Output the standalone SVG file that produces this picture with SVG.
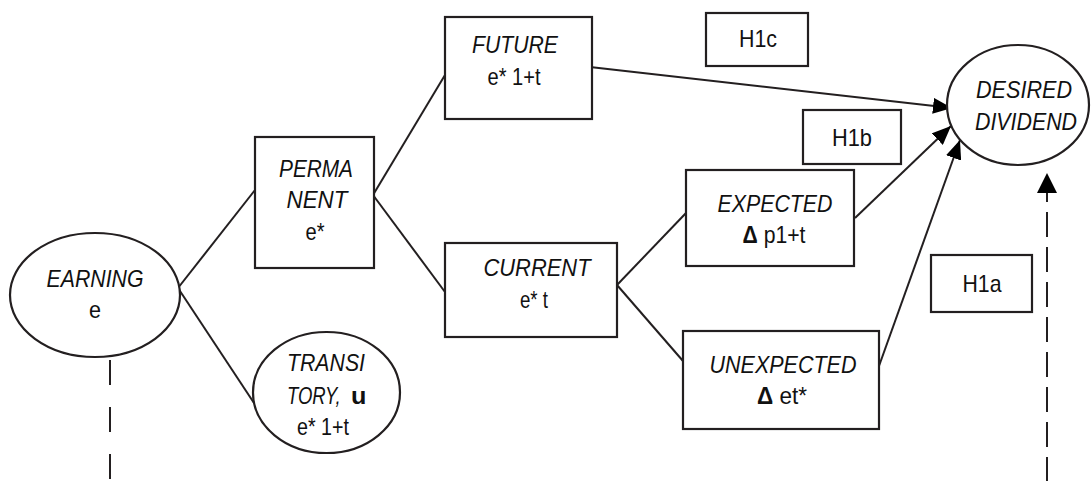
<svg xmlns="http://www.w3.org/2000/svg" width="1092" height="481" viewBox="0 0 1092 481">
<style>
.shape{fill:#fff;stroke:#231f20;stroke-width:2.2}
.t{font-family:"Liberation Sans",Arial,sans-serif;font-size:24px;fill:#111;text-anchor:middle}
.s{text-anchor:start}
.i{font-style:italic}
.b{font-weight:bold;font-style:normal}
.ln{fill:none;stroke:#231f20;stroke-width:2}
.dash{fill:none;stroke:#231f20;stroke-width:2}
</style>
<defs>
<marker id="ah" markerUnits="userSpaceOnUse" markerWidth="20" markerHeight="16" refX="19" refY="8" orient="auto">
<path d="M0,0 L19,8 L0,16 z" fill="#000"/>
</marker>
</defs>
<rect width="1092" height="481" fill="#fff"/>
<g id="connectors">
<line class="ln" x1="178" y1="288" x2="255" y2="190"/>
<line class="ln" x1="178" y1="288" x2="254" y2="403"/>
<line class="ln" x1="373" y1="195" x2="445" y2="75"/>
<line class="ln" x1="373" y1="195" x2="445" y2="292"/>
<line class="ln" x1="617" y1="285" x2="686" y2="213"/>
<line class="ln" x1="617" y1="285" x2="683" y2="361"/>
<line class="ln" x1="590" y1="67" x2="952" y2="108" marker-end="url(#ah)"/>
<line class="ln" x1="855" y1="218" x2="951" y2="126" marker-end="url(#ah)"/>
<line class="ln" x1="879" y1="366" x2="960" y2="140" marker-end="url(#ah)"/>
<line class="dash" x1="110" y1="360" x2="110" y2="481" stroke-dasharray="25 22"/>
<line class="dash" x1="1047" y1="190" x2="1047" y2="481" stroke-dasharray="25 10" stroke-dashoffset="13"/>
<path d="M1047,173 L1057,193 L1037,193 z" fill="#000"/>
</g>
<g id="earning">
<ellipse class="shape" cx="95" cy="295" rx="85" ry="62"/>
<text class="t i" x="95" y="287" textLength="97" lengthAdjust="spacingAndGlyphs">EARNING</text>
<text class="t" x="95" y="318" textLength="12" lengthAdjust="spacingAndGlyphs">e</text>
</g>
<g id="permanent">
<rect class="shape" x="255" y="137" width="119" height="131"/>
<text class="t i" x="316" y="177" textLength="74" lengthAdjust="spacingAndGlyphs">PERMA</text>
<text class="t i" x="317" y="208" textLength="61" lengthAdjust="spacingAndGlyphs">NENT</text>
<text class="t" x="315" y="240" textLength="19" lengthAdjust="spacingAndGlyphs">e*</text>
</g>
<g id="future">
<rect class="shape" x="445" y="17" width="147" height="102"/>
<text class="t i" x="515" y="53" textLength="86" lengthAdjust="spacingAndGlyphs">FUTURE</text>
<text class="t" x="514" y="85" textLength="53" lengthAdjust="spacingAndGlyphs">e* 1+t</text>
</g>
<g id="current">
<rect class="shape" x="445" y="243" width="172" height="94"/>
<text class="t i" x="537" y="276" textLength="107" lengthAdjust="spacingAndGlyphs">CURRENT</text>
<text class="t" x="534" y="308" textLength="28" lengthAdjust="spacingAndGlyphs">e* t</text>
</g>
<g id="transitory">
<ellipse class="shape" cx="326.5" cy="392.5" rx="73.5" ry="60.5"/>
<text class="t i" x="326" y="371" textLength="78" lengthAdjust="spacingAndGlyphs">TRANSI</text>
<text class="t s i" transform="translate(287,404) scale(0.77,1)" x="0" y="0">TORY,</text>
<text class="t s b" transform="translate(351,404) scale(1.05,1)" x="0" y="0">u</text>
<text class="t" x="323" y="435" textLength="52" lengthAdjust="spacingAndGlyphs">e* 1+t</text>
</g>
<g id="expected">
<rect class="shape" x="686" y="170" width="168" height="96"/>
<text class="t i" x="775" y="212" textLength="115" lengthAdjust="spacingAndGlyphs">EXPECTED</text>
<text class="t" x="774" y="243" textLength="63" lengthAdjust="spacingAndGlyphs"><tspan class="b">Δ</tspan> p1+t</text>
</g>
<g id="unexpected">
<rect class="shape" x="683" y="331" width="196" height="98"/>
<text class="t i" x="783" y="373" textLength="147" lengthAdjust="spacingAndGlyphs">UNEXPECTED</text>
<text class="t" x="782" y="404" textLength="50" lengthAdjust="spacingAndGlyphs"><tspan class="b">Δ</tspan> et*</text>
</g>
<g id="desired">
<ellipse class="shape" cx="1018" cy="105" rx="71" ry="60"/>
<text class="t i" x="1024" y="98" textLength="96" lengthAdjust="spacingAndGlyphs">DESIRED</text>
<text class="t i" x="1026" y="130" textLength="102" lengthAdjust="spacingAndGlyphs">DIVIDEND</text>
</g>
<g id="h1c">
<rect class="shape" x="706" y="13" width="102" height="53"/>
<text class="t" x="758" y="47" textLength="38" lengthAdjust="spacingAndGlyphs">H1c</text>
</g>
<g id="h1b">
<rect class="shape" x="803" y="110" width="98" height="54"/>
<text class="t" x="852" y="146" textLength="40" lengthAdjust="spacingAndGlyphs">H1b</text>
</g>
<g id="h1a">
<rect class="shape" x="931" y="255" width="101" height="57"/>
<text class="t" x="982" y="292" textLength="39" lengthAdjust="spacingAndGlyphs">H1a</text>
</g>
</svg>
